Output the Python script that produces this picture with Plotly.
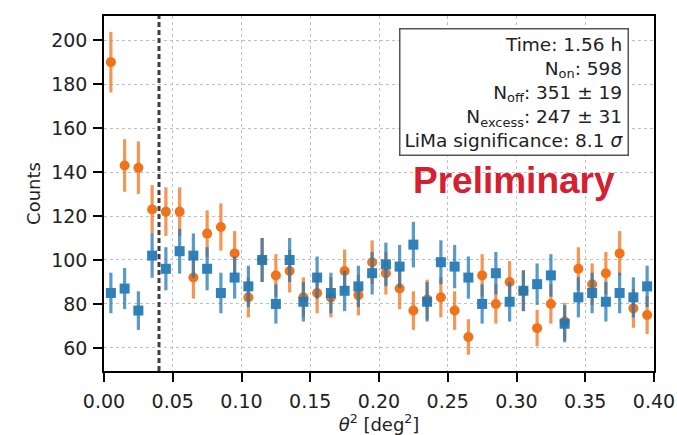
import numpy as np
import plotly.graph_objects as go

# theta^2 histogram, 40 bins of width 0.01 deg^2
bin_width = 0.01
bin_centers = [round(0.005 + bin_width * i, 3) for i in range(40)]

on_counts = [190, 143, 142, 123, 122, 122, 92, 112, 115, 103,
             83, 100, 93, 95, 83, 85, 83, 95, 84, 99,
             94, 87, 77, 82, 83, 77, 65, 93, 80, 90,
             86, 69, 80, 72, 96, 89, 94, 103, 78, 75]

off_counts = [85, 87, 77, 102, 96, 104, 102, 96, 85, 92,
              88, 100, 80, 100, 81, 92, 85, 86, 88, 94,
              98, 97, 107, 81, 99, 97, 92, 80, 94, 81,
              86, 89, 93, 71, 83, 85, 81, 85, 83, 88]

x_ticks = [0.00, 0.05, 0.10, 0.15, 0.20, 0.25, 0.30, 0.35, 0.40]
x_tick_text = ["0.00", "0.05", "0.10", "0.15", "0.20", "0.25", "0.30", "0.35", "0.40"]
y_ticks = [60, 80, 100, 120, 140, 160, 180, 200]

theta2_cut = 0.04

stats_lines = [
    "Time: 1.56 h",
    "N<sub>on</sub>: 598",
    "N<sub>off</sub>: 351 ± 19",
    "N<sub>excess</sub>: 247 ± 31",
    "LiMa significance: 8.1 <i>σ</i>",
]

ORANGE = "#f0731c"
BLUE = "#1f77b4"
FONT = "DejaVu Sans"

on_err = np.sqrt(on_counts)
off_err = np.sqrt(off_counts)

fig = go.Figure()

fig.add_trace(go.Scatter(
    x=bin_centers, y=on_counts, mode="markers", name="ON",
    marker=dict(color=ORANGE, size=10, symbol="circle"),
    error_y=dict(type="data", array=on_err, visible=True,
                 color="rgba(240,115,28,0.75)", thickness=3.2, width=0),
))
fig.add_trace(go.Scatter(
    x=bin_centers, y=off_counts, mode="markers", name="OFF",
    opacity=0.92,
    marker=dict(color=BLUE, size=10, symbol="square"),
    error_y=dict(type="data", array=off_err, visible=True,
                 color="rgba(31,119,180,0.8)", thickness=3.2, width=0),
))

# signal region cut
fig.add_shape(type="line", x0=theta2_cut, x1=theta2_cut, xref="x",
              y0=0, y1=1, yref="paper",
              line=dict(color="#404040", width=3, dash="5px,3px"))

fig.add_annotation(
    text="<br>".join(stats_lines), xref="paper", yref="paper",
    x=0.955, y=0.966, xanchor="right", yanchor="top", align="right",
    showarrow=False, bgcolor="white", bordercolor="#555555",
    borderwidth=1.5, borderpad=4,
    font=dict(family=FONT, size=18.5, color="#222222"),
)

fig.add_annotation(
    text="<b>Preliminary</b>", xref="paper", yref="paper",
    x=0.746, y=0.537, xanchor="center", yanchor="middle",
    showarrow=False,
    font=dict(family="Liberation Sans", size=37, color="#d42030"),
)

axis_common = dict(
    showline=True, linecolor="black", linewidth=1.5, mirror=True,
    ticks="outside", ticklen=9, tickwidth=1.5, tickcolor="black",
    showgrid=True, gridcolor="#c0c0c0", gridwidth=1, griddash="dot",
    zeroline=False, automargin=False,
    tickfont=dict(family=FONT, size=19, color="#222222"),
)

fig.update_xaxes(
    range=[0, 0.4], tickvals=x_ticks, ticktext=x_tick_text,
    ticklabelstandoff=3,
    title=dict(text="<i>θ</i><sup>2</sup> [deg<sup>2</sup>]",
               font=dict(family=FONT, size=18, color="#222222"), standoff=2),
    **axis_common,
)
fig.update_yaxes(
    range=[49.5, 211], tickvals=y_ticks,
    ticklabelstandoff=2,
    title=dict(text="Counts", font=dict(family=FONT, size=18, color="#222222"),
               standoff=6),
    **axis_common,
)

fig.update_layout(
    width=677, height=435,
    margin=dict(l=104, r=23, t=16, b=64),
    paper_bgcolor="white", plot_bgcolor="white",
    showlegend=False,
)

fig.write_html("out.html")
